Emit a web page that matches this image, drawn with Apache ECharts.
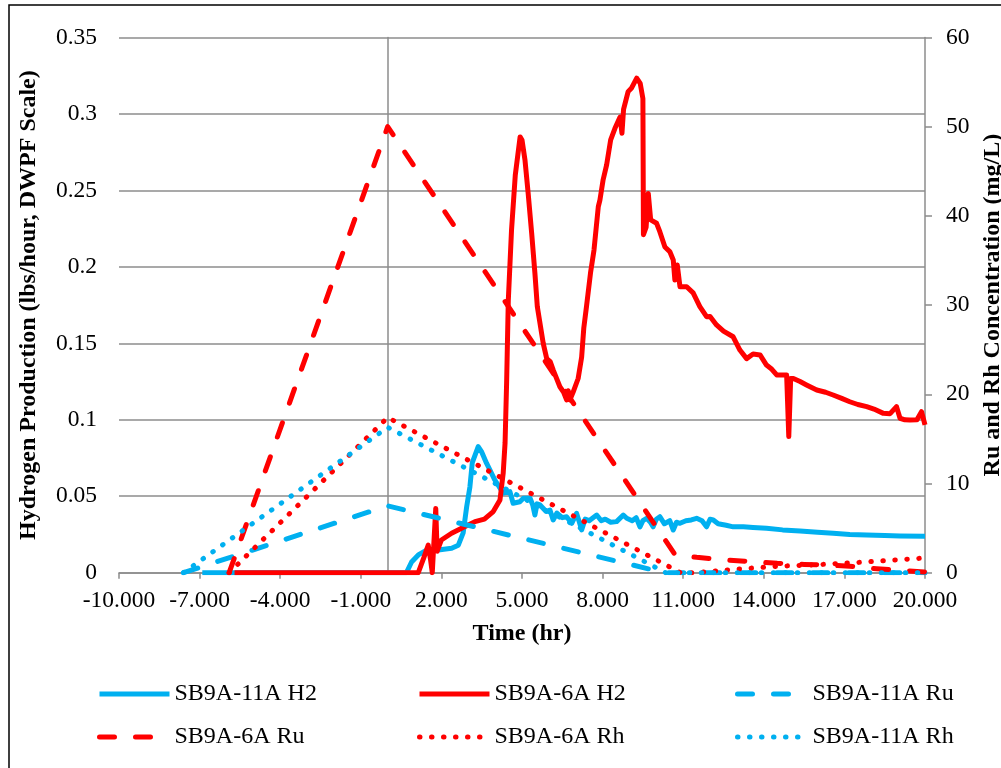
<!DOCTYPE html>
<html>
<head>
<meta charset="utf-8">
<title>Hydrogen production and Ru/Rh concentration</title>
<script src="https://cdn.jsdelivr.net/npm/echarts@6/dist/echarts.min.js"></script>
<style>
  html, body { margin: 0; padding: 0; background: #ffffff; }
  #chart { width: 1001px; height: 768px; }
</style>
</head>
<body>
<div id="chart"></div>
<script>
// ---- Data: [time (hr), value] pairs ----
const seriesNames = ['SB9A-11A H2', 'SB9A-6A H2', 'SB9A-11A Ru', 'SB9A-6A Ru', 'SB9A-6A Rh', 'SB9A-11A Rh'];

const timeTicks = [-10, -7, -4, -1, 2, 5, 8, 11, 14, 17, 20];

// Hydrogen production, lbs/hour (DWPF scale)
const h2_11A = [
  [-6.9, 0], [0.7, 0], [0.89, 0.007], [1.14, 0.0116], [1.45, 0.0148], [1.88, 0.0148], [2.38, 0.016],
  [2.63, 0.018], [2.81, 0.026], [2.94, 0.043], [3.06, 0.056], [3.15, 0.072], [3.37, 0.0824], [3.5, 0.079],
  [3.68, 0.0716], [3.99, 0.0606], [4.3, 0.052], [4.55, 0.053], [4.67, 0.0454], [4.92, 0.0464], [5.05, 0.0487],
  [5.3, 0.0487], [5.4, 0.0443], [5.48, 0.0377], [5.56, 0.045], [5.67, 0.0443], [5.9, 0.040], [6.04, 0.041],
  [6.16, 0.0345], [6.3, 0.039], [6.5, 0.036], [6.66, 0.0366], [6.85, 0.0323], [7.03, 0.0388], [7.12, 0.034],
  [7.22, 0.028], [7.35, 0.035], [7.5, 0.034], [7.78, 0.0377], [7.95, 0.034], [8.1, 0.035], [8.3, 0.033],
  [8.52, 0.0334], [8.77, 0.0377], [8.9, 0.0356], [9.1, 0.034], [9.25, 0.036], [9.39, 0.030], [9.5, 0.034],
  [9.64, 0.0356], [9.78, 0.033], [9.88, 0.030], [10.0, 0.035], [10.13, 0.0366], [10.3, 0.032], [10.5, 0.034],
  [10.63, 0.0279], [10.75, 0.033], [10.88, 0.0323], [11.1, 0.034], [11.3, 0.0345], [11.5, 0.0356],
  [11.7, 0.034], [11.87, 0.030], [12.0, 0.035], [12.12, 0.0345], [12.3, 0.032], [12.6, 0.031], [12.86, 0.030],
  [13.24, 0.030], [13.6, 0.0295], [14.1, 0.029], [14.7, 0.028], [15.35, 0.0273], [16.0, 0.0265],
  [16.58, 0.0258], [17.2, 0.025], [17.83, 0.0247], [18.5, 0.0243], [19.07, 0.024], [20, 0.0238]
];

const h2_6A = [
  [-5.7, 0], [1.14, 0], [1.35, 0.010], [1.51, 0.018], [1.6, 0.008], [1.66, 0], [1.79, 0.042], [1.84, 0.014],
  [2.0, 0.0214], [2.38, 0.0258], [2.75, 0.029], [3.25, 0.0334], [3.6, 0.035], [3.93, 0.040], [4.18, 0.0475],
  [4.3, 0.065], [4.37, 0.085], [4.43, 0.126], [4.49, 0.178], [4.61, 0.224], [4.75, 0.26], [4.93, 0.285],
  [5.0, 0.283], [5.11, 0.27], [5.23, 0.248], [5.36, 0.222], [5.48, 0.196], [5.57, 0.174], [5.79, 0.150],
  [5.92, 0.140], [6.05, 0.138], [6.16, 0.1326], [6.41, 0.1216], [6.55, 0.118], [6.66, 0.113], [6.72, 0.119],
  [6.78, 0.113], [6.9, 0.118], [7.09, 0.127], [7.22, 0.141], [7.3, 0.160], [7.4, 0.174], [7.55, 0.196],
  [7.68, 0.211], [7.84, 0.2394], [7.9, 0.2437], [8.02, 0.257], [8.15, 0.2667], [8.3, 0.283], [8.46, 0.2906],
  [8.65, 0.298], [8.72, 0.2874], [8.78, 0.303], [8.95, 0.3146], [9.08, 0.317], [9.27, 0.3234], [9.4, 0.320],
  [9.5, 0.310], [9.52, 0.221], [9.62, 0.226], [9.7, 0.248], [9.79, 0.2307], [10.01, 0.2285], [10.13, 0.223],
  [10.32, 0.213], [10.5, 0.21], [10.63, 0.2045], [10.69, 0.1914], [10.78, 0.2012], [10.88, 0.187],
  [11.13, 0.187], [11.37, 0.183], [11.62, 0.174], [11.87, 0.1674], [12.0, 0.1675], [12.24, 0.162],
  [12.5, 0.158], [12.86, 0.1543], [13.11, 0.1456], [13.36, 0.140], [13.6, 0.143], [13.86, 0.1424],
  [14.1, 0.1358], [14.3, 0.133], [14.48, 0.1293], [14.85, 0.1293], [14.93, 0.089], [15.0, 0.127],
  [15.1, 0.127], [15.35, 0.125], [15.59, 0.1228], [15.97, 0.1195], [16.3, 0.118], [16.58, 0.1162],
  [16.9, 0.114], [17.2, 0.1118], [17.5, 0.110], [17.83, 0.1086], [18.1, 0.107], [18.45, 0.1042],
  [18.7, 0.104], [18.94, 0.1086], [19.07, 0.101], [19.25, 0.100], [19.44, 0.0999], [19.7, 0.1],
  [19.87, 0.1053], [20, 0.0966]
];

// Ru and Rh concentration, mg/L
const ru_11A = [[-7.6, 0], [0, 7.5], [10.3, 0], [20, 0]];
const ru_6A = [
  [-5.9, 0], [0, 50], [10.7, 2.0], [11.5, 1.72], [12.5, 1.45], [13.5, 1.25], [14.5, 1.05],
  [15.5, 0.93], [16.5, 0.85], [17.2, 0.72], [18.2, 0.45], [19, 0.28], [20, 0.08]
];
const rh_6A = [
  [-5.9, 0], [0, 17.4], [10.9, 0], [11.4, 0], [13, 0.4], [14.5, 0.72], [16, 0.9], [17.5, 1.15],
  [19, 1.45], [20, 1.65]
];
const rh_11A = [[-7.6, 0], [0, 16.3], [10.35, 0], [20, 0]];

// ---- Styling ----
const RED = '#FF0000';
const BLUE = '#00B0F0';
const GRID_GRAY = '#8c8c8c';
const SERIF = "'Liberation Serif', 'Times New Roman', serif";
const LINE_W = 5;
const DASH = [15, 21];
const DOT = [0.5, 11.5];

function lineSeries(name, data, color, dash, yAxisIndex) {
  return {
    name: name,
    type: 'line',
    data: data,
    yAxisIndex: yAxisIndex,
    symbol: 'none',
    showSymbol: false,
    smooth: false,
    animation: false,
    silent: true,
    lineStyle: {
      color: color,
      width: LINE_W,
      type: dash || 'solid',
      cap: dash ? 'round' : 'butt',
      join: 'round'
    },
    itemStyle: { color: color }
  };
}

// One legend block per entry so the three columns line up
const legendSlots = [
  { name: seriesNames[0], left: 97, top: 682 },
  { name: seriesNames[1], left: 417, top: 682 },
  { name: seriesNames[2], left: 735, top: 682 },
  { name: seriesNames[3], left: 97, top: 725 },
  { name: seriesNames[4], left: 417, top: 725 },
  { name: seriesNames[5], left: 735, top: 725 }
];

const axisTitleStyle = { fontFamily: SERIF, fontSize: 24, fontWeight: 'bold', color: '#000' };
const tickLabelStyle = { fontFamily: SERIF, fontSize: 23.5, color: '#000' };

const chart = echarts.init(document.getElementById('chart'), null, { renderer: 'canvas' });

chart.setOption({
  animation: false,
  backgroundColor: '#ffffff',
  graphic: [{
    type: 'rect',
    shape: { x: 9, y: 5, width: 1020, height: 800 },
    style: { fill: 'none', stroke: '#000', lineWidth: 1.5 },
    silent: true,
    z: -1
  }],
  grid: {
    left: 119,
    right: 76,
    top: 37.5,
    bottom: 195.3,
    containLabel: false,
    outerBoundsMode: 'none'
  },
  legend: legendSlots.map(s => ({
    data: [s.name],
    left: s.left,
    top: s.top,
    padding: 0,
    itemWidth: 70,
    itemHeight: 24,
    selectedMode: false,
    // line sample only, no marker on it
    itemStyle: { color: 'rgba(0,0,0,0)', borderWidth: 0, opacity: 0 },
    lineStyle: { width: LINE_W },
    textStyle: { fontFamily: SERIF, fontSize: 24, color: '#000' }
  })),
  xAxis: {
    type: 'value',
    min: -10,
    max: 20,
    axisLine: { show: true, onZero: false, lineStyle: { color: GRID_GRAY, width: 1.5 } },
    axisTick: { show: true, customValues: timeTicks, length: 6, lineStyle: { color: GRID_GRAY, width: 1.5 } },
    axisLabel: Object.assign({ customValues: timeTicks, margin: 16, formatter: v => v.toFixed(3) }, tickLabelStyle),
    splitLine: { show: false },
    name: 'Time (hr)',
    nameLocation: 'middle',
    nameGap: 49,
    nameTextStyle: axisTitleStyle
  },
  yAxis: [
    {
      type: 'value',
      position: 'left',
      min: 0,
      max: 0.35,
      interval: 0.05,
      axisLine: { show: false, onZero: false },
      axisTick: { show: false },
      axisLabel: Object.assign({ margin: 22 }, tickLabelStyle),
      splitLine: { show: true, lineStyle: { color: GRID_GRAY, width: 1.5 } },
      name: 'Hydrogen Production (lbs/hour, DWPF Scale)',
      nameLocation: 'middle',
      nameRotate: 90,
      nameGap: 78,
      nameTextStyle: axisTitleStyle
    },
    {
      type: 'value',
      position: 'right',
      min: 0,
      max: 60,
      interval: 10,
      axisLine: { show: true, onZero: false, lineStyle: { color: GRID_GRAY, width: 1.5 } },
      axisTick: { show: true, length: 7, lineStyle: { color: GRID_GRAY, width: 1.5 } },
      axisLabel: Object.assign({ margin: 21 }, tickLabelStyle),
      splitLine: { show: false },
      name: 'Ru and Rh Concentration (mg/L)',
      nameLocation: 'middle',
      nameRotate: 90,
      nameGap: 55,
      nameTextStyle: axisTitleStyle
    },
    {
      // vertical axis line crossing at time 0
      type: 'value',
      min: 0,
      max: 0.35,
      interval: 0.05,
      axisLine: { show: true, onZero: true, onZeroAxisIndex: 0, lineStyle: { color: GRID_GRAY, width: 1.5 } },
      axisTick: { show: false },
      axisLabel: { show: false },
      splitLine: { show: false }
    }
  ],
  series: [
    lineSeries(seriesNames[0], h2_11A, BLUE, null, 0),
    lineSeries(seriesNames[1], h2_6A, RED, null, 0),
    lineSeries(seriesNames[2], ru_11A, BLUE, DASH, 1),
    lineSeries(seriesNames[3], ru_6A, RED, DASH, 1),
    lineSeries(seriesNames[4], rh_6A, RED, DOT, 1),
    lineSeries(seriesNames[5], rh_11A, BLUE, DOT, 1)
  ]
});
</script>
</body>
</html>
